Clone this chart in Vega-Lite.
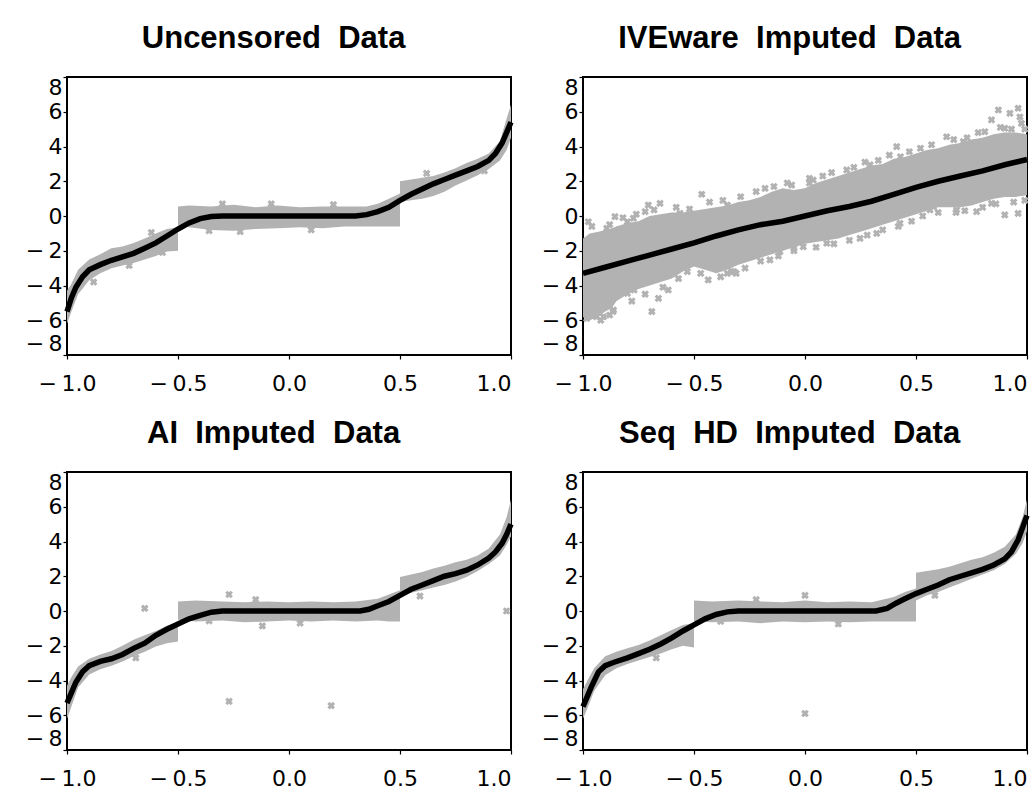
{
  "$schema": "https://vega.github.io/schema/vega-lite/v6.json",
  "background": "white",
  "padding": {"left": 24, "top": 22, "right": 5, "bottom": 5},
  "autosize": {"type": "pad"},
  "bounds": "flush",
  "columns": 2,
  "spacing": {"row": 117, "column": 72},
  "config": {
    "view": {"stroke": "black", "strokeWidth": 2},
    "axis": {"domain": false, "grid": false, "tickColor": "black", "tickSize": 4, "tickWidth": 1.2, "labelFont": "DejaVu Sans", "labelFontSize": 22, "labelColor": "black", "labelOverlap": false, "labelExpr": "replace(replace(datum.label, '-', '\u2212'), '\u2212', '\u2212\u2009')"},
    "axisX": {"labelFlush": false, "labelPadding": 14, "labelAlign": {"expr": "datum.value === 1 ? 'right' : 'center'"}},
    "axisY": {"labelFlush": true, "labelPadding": 1},
    "title": {"font": "Liberation Sans", "fontSize": 31, "fontWeight": "bold", "color": "black", "anchor": "middle", "frame": "bounds", "baseline": "alphabetic", "offset": 21}
  },
  "datasets": {
    "band": [
      {"p":"U","s":"a","x":-1.0,"lo":-6.2,"hi":-4.3},{"p":"U","s":"a","x":-0.98,"lo":-5.5,"hi":-3.9},{"p":"U","s":"a","x":-0.95,"lo":-4.5,"hi":-3.1},{"p":"U","s":"a","x":-0.9,"lo":-3.7,"hi":-2.5},{"p":"U","s":"a","x":-0.85,"lo":-3.3,"hi":-2.2},{"p":"U","s":"a","x":-0.8,"lo":-3.0,"hi":-1.85},{"p":"U","s":"a","x":-0.75,"lo":-2.85,"hi":-1.75},{"p":"U","s":"a","x":-0.7,"lo":-2.7,"hi":-1.55},{"p":"U","s":"a","x":-0.65,"lo":-2.5,"hi":-1.3},{"p":"U","s":"a","x":-0.6,"lo":-2.3,"hi":-1.0},{"p":"U","s":"a","x":-0.55,"lo":-2.05,"hi":-0.75},{"p":"U","s":"a","x":-0.5,"lo":-2.0,"hi":-0.65},
      {"p":"U","s":"b","x":-0.5,"lo":-0.55,"hi":0.55},{"p":"U","s":"b","x":-0.45,"lo":-0.65,"hi":0.6},{"p":"U","s":"b","x":-0.35,"lo":-0.8,"hi":0.55},{"p":"U","s":"b","x":-0.25,"lo":-0.85,"hi":0.65},{"p":"U","s":"b","x":-0.15,"lo":-0.75,"hi":0.5},{"p":"U","s":"b","x":-0.05,"lo":-0.7,"hi":0.6},{"p":"U","s":"b","x":0.05,"lo":-0.65,"hi":0.5},{"p":"U","s":"b","x":0.15,"lo":-0.7,"hi":0.55},{"p":"U","s":"b","x":0.25,"lo":-0.6,"hi":0.55},{"p":"U","s":"b","x":0.35,"lo":-0.6,"hi":0.55},{"p":"U","s":"b","x":0.4,"lo":-0.6,"hi":0.7},{"p":"U","s":"b","x":0.45,"lo":-0.6,"hi":1.0},{"p":"U","s":"b","x":0.5,"lo":-0.6,"hi":1.3},
      {"p":"U","s":"c","x":0.5,"lo":0.8,"hi":2.0},{"p":"U","s":"c","x":0.55,"lo":0.9,"hi":2.1},{"p":"U","s":"c","x":0.6,"lo":1.0,"hi":2.2},{"p":"U","s":"c","x":0.65,"lo":1.15,"hi":2.3},{"p":"U","s":"c","x":0.7,"lo":1.4,"hi":2.5},{"p":"U","s":"c","x":0.75,"lo":1.75,"hi":2.75},{"p":"U","s":"c","x":0.8,"lo":2.05,"hi":3.05},{"p":"U","s":"c","x":0.85,"lo":2.35,"hi":3.3},{"p":"U","s":"c","x":0.9,"lo":2.7,"hi":3.6},{"p":"U","s":"c","x":0.95,"lo":3.2,"hi":4.3},{"p":"U","s":"c","x":0.98,"lo":3.8,"hi":5.6},{"p":"U","s":"c","x":1.0,"lo":4.5,"hi":6.4},

      {"p":"I","s":"a","x":-1.0,"lo":-5.8,"hi":-1.3},{"p":"I","s":"a","x":-0.97,"lo":-6.0,"hi":-1.0},{"p":"I","s":"a","x":-0.93,"lo":-5.8,"hi":-0.9},{"p":"I","s":"a","x":-0.9,"lo":-5.5,"hi":-0.8},{"p":"I","s":"a","x":-0.87,"lo":-5.3,"hi":-0.7},{"p":"I","s":"a","x":-0.85,"lo":-4.9,"hi":-0.6},{"p":"I","s":"a","x":-0.8,"lo":-4.5,"hi":-0.4},{"p":"I","s":"a","x":-0.75,"lo":-4.2,"hi":-0.3},{"p":"I","s":"a","x":-0.7,"lo":-4.0,"hi":0.0},{"p":"I","s":"a","x":-0.65,"lo":-3.8,"hi":0.1},{"p":"I","s":"a","x":-0.6,"lo":-3.6,"hi":0.2},{"p":"I","s":"a","x":-0.55,"lo":-3.2,"hi":0.2},{"p":"I","s":"a","x":-0.5,"lo":-2.9,"hi":0.3},{"p":"I","s":"a","x":-0.45,"lo":-3.1,"hi":0.4},{"p":"I","s":"a","x":-0.4,"lo":-3.3,"hi":0.5},{"p":"I","s":"a","x":-0.35,"lo":-3.1,"hi":0.6},{"p":"I","s":"a","x":-0.3,"lo":-2.8,"hi":0.8},{"p":"I","s":"a","x":-0.25,"lo":-2.6,"hi":0.9},{"p":"I","s":"a","x":-0.2,"lo":-2.4,"hi":1.1},{"p":"I","s":"a","x":-0.15,"lo":-2.2,"hi":1.4},{"p":"I","s":"a","x":-0.1,"lo":-2.0,"hi":1.6},{"p":"I","s":"a","x":-0.05,"lo":-1.8,"hi":1.5},{"p":"I","s":"a","x":0.0,"lo":-1.6,"hi":1.6},{"p":"I","s":"a","x":0.05,"lo":-1.5,"hi":1.9},{"p":"I","s":"a","x":0.1,"lo":-1.4,"hi":2.1},{"p":"I","s":"a","x":0.15,"lo":-1.3,"hi":2.3},{"p":"I","s":"a","x":0.2,"lo":-1.1,"hi":2.5},{"p":"I","s":"a","x":0.25,"lo":-0.9,"hi":2.7},{"p":"I","s":"a","x":0.3,"lo":-0.7,"hi":2.9},{"p":"I","s":"a","x":0.35,"lo":-0.5,"hi":3.0},{"p":"I","s":"a","x":0.4,"lo":-0.3,"hi":3.3},{"p":"I","s":"a","x":0.45,"lo":-0.1,"hi":3.4},{"p":"I","s":"a","x":0.5,"lo":0.1,"hi":3.6},{"p":"I","s":"a","x":0.55,"lo":0.3,"hi":3.8},{"p":"I","s":"a","x":0.6,"lo":0.5,"hi":3.9},{"p":"I","s":"a","x":0.65,"lo":0.5,"hi":4.1},{"p":"I","s":"a","x":0.7,"lo":0.5,"hi":4.2},{"p":"I","s":"a","x":0.75,"lo":0.6,"hi":4.4},{"p":"I","s":"a","x":0.8,"lo":0.8,"hi":4.5},{"p":"I","s":"a","x":0.85,"lo":1.0,"hi":4.7},{"p":"I","s":"a","x":0.9,"lo":1.1,"hi":4.8},{"p":"I","s":"a","x":0.95,"lo":1.1,"hi":4.8},{"p":"I","s":"a","x":1.0,"lo":1.2,"hi":4.7},

      {"p":"A","s":"a","x":-1.0,"lo":-6.2,"hi":-4.3},{"p":"A","s":"a","x":-0.98,"lo":-5.5,"hi":-3.8},{"p":"A","s":"a","x":-0.95,"lo":-4.4,"hi":-3.2},{"p":"A","s":"a","x":-0.9,"lo":-3.65,"hi":-2.75},{"p":"A","s":"a","x":-0.85,"lo":-3.35,"hi":-2.5},{"p":"A","s":"a","x":-0.8,"lo":-3.15,"hi":-2.3},{"p":"A","s":"a","x":-0.75,"lo":-2.9,"hi":-2.0},{"p":"A","s":"a","x":-0.7,"lo":-2.6,"hi":-1.65},{"p":"A","s":"a","x":-0.65,"lo":-2.35,"hi":-1.4},{"p":"A","s":"a","x":-0.6,"lo":-2.05,"hi":-1.15},{"p":"A","s":"a","x":-0.55,"lo":-1.85,"hi":-0.85},{"p":"A","s":"a","x":-0.5,"lo":-1.75,"hi":-0.65},
      {"p":"A","s":"b","x":-0.5,"lo":-0.5,"hi":0.55},{"p":"A","s":"b","x":-0.42,"lo":-0.6,"hi":0.6},{"p":"A","s":"b","x":-0.3,"lo":-0.55,"hi":0.55},{"p":"A","s":"b","x":-0.2,"lo":-0.65,"hi":0.5},{"p":"A","s":"b","x":-0.1,"lo":-0.6,"hi":0.55},{"p":"A","s":"b","x":0.0,"lo":-0.55,"hi":0.5},{"p":"A","s":"b","x":0.1,"lo":-0.6,"hi":0.55},{"p":"A","s":"b","x":0.2,"lo":-0.55,"hi":0.5},{"p":"A","s":"b","x":0.3,"lo":-0.6,"hi":0.55},{"p":"A","s":"b","x":0.4,"lo":-0.55,"hi":0.7},{"p":"A","s":"b","x":0.45,"lo":-0.6,"hi":0.95},{"p":"A","s":"b","x":0.5,"lo":-0.6,"hi":1.2},
      {"p":"A","s":"c","x":0.5,"lo":0.9,"hi":1.95},{"p":"A","s":"c","x":0.55,"lo":1.05,"hi":2.1},{"p":"A","s":"c","x":0.6,"lo":1.2,"hi":2.25},{"p":"A","s":"c","x":0.65,"lo":1.35,"hi":2.45},{"p":"A","s":"c","x":0.7,"lo":1.5,"hi":2.6},{"p":"A","s":"c","x":0.75,"lo":1.7,"hi":2.8},{"p":"A","s":"c","x":0.8,"lo":1.95,"hi":2.95},{"p":"A","s":"c","x":0.85,"lo":2.3,"hi":3.2},{"p":"A","s":"c","x":0.9,"lo":2.7,"hi":3.6},{"p":"A","s":"c","x":0.95,"lo":3.2,"hi":4.4},{"p":"A","s":"c","x":0.98,"lo":3.8,"hi":5.4},{"p":"A","s":"c","x":1.0,"lo":4.3,"hi":6.4},

      {"p":"S","s":"a","x":-1.0,"lo":-6.2,"hi":-4.5},{"p":"S","s":"a","x":-0.98,"lo":-5.6,"hi":-4.0},{"p":"S","s":"a","x":-0.95,"lo":-4.6,"hi":-3.3},{"p":"S","s":"a","x":-0.9,"lo":-3.7,"hi":-2.6},{"p":"S","s":"a","x":-0.85,"lo":-3.3,"hi":-2.35},{"p":"S","s":"a","x":-0.8,"lo":-3.05,"hi":-2.15},{"p":"S","s":"a","x":-0.75,"lo":-2.85,"hi":-1.95},{"p":"S","s":"a","x":-0.7,"lo":-2.65,"hi":-1.7},{"p":"S","s":"a","x":-0.65,"lo":-2.45,"hi":-1.4},{"p":"S","s":"a","x":-0.6,"lo":-2.2,"hi":-1.1},{"p":"S","s":"a","x":-0.55,"lo":-2.0,"hi":-0.8},{"p":"S","s":"a","x":-0.5,"lo":-2.1,"hi":-0.7},
      {"p":"S","s":"b","x":-0.5,"lo":-0.6,"hi":0.6},{"p":"S","s":"b","x":-0.42,"lo":-0.65,"hi":0.55},{"p":"S","s":"b","x":-0.3,"lo":-0.6,"hi":0.6},{"p":"S","s":"b","x":-0.2,"lo":-0.7,"hi":0.55},{"p":"S","s":"b","x":-0.1,"lo":-0.6,"hi":0.5},{"p":"S","s":"b","x":0.0,"lo":-0.65,"hi":0.6},{"p":"S","s":"b","x":0.1,"lo":-0.6,"hi":0.5},{"p":"S","s":"b","x":0.2,"lo":-0.65,"hi":0.55},{"p":"S","s":"b","x":0.3,"lo":-0.6,"hi":0.5},{"p":"S","s":"b","x":0.4,"lo":-0.6,"hi":0.8},{"p":"S","s":"b","x":0.45,"lo":-0.6,"hi":1.1},{"p":"S","s":"b","x":0.5,"lo":-0.6,"hi":1.3},
      {"p":"S","s":"c","x":0.5,"lo":0.6,"hi":2.2},{"p":"S","s":"c","x":0.55,"lo":0.9,"hi":2.3},{"p":"S","s":"c","x":0.6,"lo":1.1,"hi":2.4},{"p":"S","s":"c","x":0.65,"lo":1.35,"hi":2.55},{"p":"S","s":"c","x":0.7,"lo":1.6,"hi":2.75},{"p":"S","s":"c","x":0.75,"lo":1.85,"hi":2.95},{"p":"S","s":"c","x":0.8,"lo":2.1,"hi":3.1},{"p":"S","s":"c","x":0.85,"lo":2.35,"hi":3.35},{"p":"S","s":"c","x":0.9,"lo":2.7,"hi":3.7},{"p":"S","s":"c","x":0.95,"lo":3.3,"hi":4.4},{"p":"S","s":"c","x":0.98,"lo":3.9,"hi":5.4},{"p":"S","s":"c","x":1.0,"lo":4.6,"hi":6.4}
    ],
    "pts": [
      {"p":"U","x":-0.62,"y":-0.95},{"p":"U","x":-0.72,"y":-2.85},{"p":"U","x":-0.36,"y":-0.85},{"p":"U","x":-0.22,"y":-0.9},{"p":"U","x":0.1,"y":-0.8},{"p":"U","x":0.2,"y":0.65},{"p":"U","x":-0.08,"y":0.7},{"p":"U","x":-0.3,"y":0.7},{"p":"U","x":0.62,"y":2.45},{"p":"U","x":0.88,"y":2.6},{"p":"U","x":-0.88,"y":-3.8},{"p":"U","x":-0.57,"y":-2.1},

      {"p":"I","x":-0.976,"y":-0.33},{"p":"I","x":-0.856,"y":-0.04},{"p":"I","x":-0.893,"y":-0.71},{"p":"I","x":-0.773,"y":-0.13},{"p":"I","x":-0.706,"y":0.63},{"p":"I","x":-0.653,"y":0.73},{"p":"I","x":-0.72,"y":0.25},{"p":"I","x":-0.465,"y":1.25},{"p":"I","x":-0.968,"y":-5.41},{"p":"I","x":-0.94,"y":-5.8},{"p":"I","x":-0.863,"y":-5.41},{"p":"I","x":-0.69,"y":-5.5},{"p":"I","x":-0.66,"y":-4.74},{"p":"I","x":-0.616,"y":-4.26},{"p":"I","x":-0.77,"y":-4.26},{"p":"I","x":-0.436,"y":-3.68},{"p":"I","x":-0.32,"y":-3.2},{"p":"I","x":-0.35,"y":-3.3},{"p":"I","x":-0.158,"y":-2.53},{"p":"I","x":-0.113,"y":-2.05},{"p":"I","x":-0.05,"y":-1.86},{"p":"I","x":-0.18,"y":1.59},{"p":"I","x":-0.06,"y":1.78},{"p":"I","x":0.02,"y":2.17},{"p":"I","x":-0.29,"y":1.11},{"p":"I","x":-0.35,"y":0.63},{"p":"I","x":-0.563,"y":0.15},{"p":"I","x":-0.8,"y":-0.33},{"p":"I","x":-0.84,"y":-0.8},{"p":"I","x":-0.93,"y":-1.19},
      {"p":"I","x":-0.008,"y":-1.77},{"p":"I","x":0.098,"y":-1.57},{"p":"I","x":0.248,"y":-1.29},{"p":"I","x":0.323,"y":-1.0},{"p":"I","x":0.428,"y":-0.42},{"p":"I","x":0.578,"y":0.54},{"p":"I","x":0.683,"y":0.35},{"p":"I","x":0.773,"y":0.25},{"p":"I","x":0.9,"y":0.06},{"p":"I","x":0.96,"y":0.15},{"p":"I","x":0.84,"y":0.73},{"p":"I","x":0.037,"y":2.07},{"p":"I","x":0.188,"y":2.65},{"p":"I","x":0.293,"y":2.94},{"p":"I","x":0.413,"y":3.99},{"p":"I","x":0.43,"y":3.41},{"p":"I","x":0.638,"y":4.56},{"p":"I","x":0.713,"y":4.28},{"p":"I","x":0.81,"y":4.85},{"p":"I","x":0.84,"y":5.53},{"p":"I","x":0.871,"y":6.1},{"p":"I","x":0.923,"y":5.91},{"p":"I","x":0.96,"y":6.2},{"p":"I","x":0.975,"y":5.33},{"p":"I","x":0.9,"y":5.05},{"p":"I","x":0.968,"y":5.7},{"p":"I","x":0.668,"y":0.92},{"p":"I","x":0.563,"y":0.35},
      {"p":"I","x":-0.983,"y":-5.9},{"p":"I","x":-0.908,"y":-5.8},{"p":"I","x":-0.865,"y":-5.5},{"p":"I","x":-0.833,"y":-4.26},{"p":"I","x":-0.8,"y":-4.45},{"p":"I","x":-0.31,"y":-3.3},
      {"p":"I","x":-0.96,"y":-0.6},{"p":"I","x":-0.88,"y":-0.5},{"p":"I","x":-0.82,"y":-0.1},{"p":"I","x":-0.76,"y":0.1},{"p":"I","x":-0.68,"y":0.35},{"p":"I","x":-0.58,"y":0.5},{"p":"I","x":-0.52,"y":0.4},{"p":"I","x":-0.43,"y":0.8},{"p":"I","x":-0.37,"y":0.9},{"p":"I","x":-0.22,"y":1.4},{"p":"I","x":-0.14,"y":1.7},{"p":"I","x":-0.08,"y":1.9},{"p":"I","x":0.02,"y":1.9},{"p":"I","x":0.08,"y":2.3},{"p":"I","x":0.12,"y":2.5},{"p":"I","x":0.22,"y":2.8},{"p":"I","x":0.27,"y":3.1},{"p":"I","x":0.33,"y":3.2},{"p":"I","x":0.38,"y":3.5},{"p":"I","x":0.47,"y":3.7},{"p":"I","x":0.52,"y":3.9},{"p":"I","x":0.57,"y":4.1},{"p":"I","x":0.67,"y":4.4},{"p":"I","x":0.73,"y":4.5},{"p":"I","x":0.78,"y":4.8},{"p":"I","x":0.88,"y":5.1},{"p":"I","x":0.93,"y":5.0},{"p":"I","x":0.99,"y":5.0},
      {"p":"I","x":-0.98,"y":-5.3},{"p":"I","x":-0.92,"y":-6.0},{"p":"I","x":-0.88,"y":-5.7},{"p":"I","x":-0.78,"y":-4.9},{"p":"I","x":-0.72,"y":-4.5},{"p":"I","x":-0.64,"y":-4.1},{"p":"I","x":-0.57,"y":-3.6},{"p":"I","x":-0.53,"y":-3.2},{"p":"I","x":-0.47,"y":-3.3},{"p":"I","x":-0.38,"y":-3.5},{"p":"I","x":-0.33,"y":-3.2},{"p":"I","x":-0.27,"y":-3.0},{"p":"I","x":-0.2,"y":-2.6},{"p":"I","x":-0.12,"y":-2.3},{"p":"I","x":-0.05,"y":-2.0},{"p":"I","x":0.05,"y":-1.8},{"p":"I","x":0.13,"y":-1.6},{"p":"I","x":0.2,"y":-1.4},{"p":"I","x":0.28,"y":-1.1},{"p":"I","x":0.35,"y":-0.8},{"p":"I","x":0.42,"y":-0.6},{"p":"I","x":0.48,"y":-0.3},{"p":"I","x":0.53,"y":0.0},{"p":"I","x":0.6,"y":0.2},{"p":"I","x":0.68,"y":0.2},{"p":"I","x":0.72,"y":0.3},{"p":"I","x":0.8,"y":0.5},{"p":"I","x":0.86,"y":0.7},{"p":"I","x":0.94,"y":0.8},{"p":"I","x":0.99,"y":0.9},

      {"p":"A","x":-0.65,"y":0.15},{"p":"A","x":-0.27,"y":-5.2},{"p":"A","x":0.19,"y":-5.45},{"p":"A","x":0.98,"y":0.0},{"p":"A","x":-0.27,"y":0.95},{"p":"A","x":-0.12,"y":-0.86},{"p":"A","x":0.59,"y":0.86},{"p":"A","x":-0.36,"y":-0.57},{"p":"A","x":-0.69,"y":-2.7},{"p":"A","x":-0.15,"y":0.65},{"p":"A","x":0.05,"y":-0.7},

      {"p":"S","x":0.0,"y":-5.9},{"p":"S","x":0.0,"y":0.9},{"p":"S","x":0.585,"y":0.9},{"p":"S","x":-0.67,"y":-2.7},{"p":"S","x":-0.22,"y":0.65},{"p":"S","x":0.15,"y":-0.75},{"p":"S","x":-0.38,"y":-0.6}
    ],
    "fit": [
      {"p":"U","x":-1.0,"y":-5.5},{"p":"U","x":-0.98,"y":-4.7},{"p":"U","x":-0.96,"y":-4.1},{"p":"U","x":-0.93,"y":-3.5},{"p":"U","x":-0.9,"y":-3.1},{"p":"U","x":-0.85,"y":-2.8},{"p":"U","x":-0.8,"y":-2.55},{"p":"U","x":-0.75,"y":-2.35},{"p":"U","x":-0.7,"y":-2.15},{"p":"U","x":-0.65,"y":-1.85},{"p":"U","x":-0.6,"y":-1.55},{"p":"U","x":-0.55,"y":-1.15},{"p":"U","x":-0.5,"y":-0.75},{"p":"U","x":-0.45,"y":-0.4},{"p":"U","x":-0.4,"y":-0.15},{"p":"U","x":-0.35,"y":-0.03},{"p":"U","x":-0.3,"y":0.0},{"p":"U","x":0.3,"y":0.0},{"p":"U","x":0.35,"y":0.08},{"p":"U","x":0.4,"y":0.25},{"p":"U","x":0.45,"y":0.5},{"p":"U","x":0.5,"y":0.9},{"p":"U","x":0.55,"y":1.25},{"p":"U","x":0.6,"y":1.55},{"p":"U","x":0.65,"y":1.85},{"p":"U","x":0.7,"y":2.1},{"p":"U","x":0.75,"y":2.35},{"p":"U","x":0.8,"y":2.6},{"p":"U","x":0.85,"y":2.85},{"p":"U","x":0.9,"y":3.2},{"p":"U","x":0.93,"y":3.6},{"p":"U","x":0.96,"y":4.2},{"p":"U","x":0.98,"y":4.8},{"p":"U","x":1.0,"y":5.4},

      {"p":"I","x":-1.0,"y":-3.3},{"p":"I","x":-0.9,"y":-2.95},{"p":"I","x":-0.8,"y":-2.6},{"p":"I","x":-0.7,"y":-2.25},{"p":"I","x":-0.6,"y":-1.9},{"p":"I","x":-0.5,"y":-1.55},{"p":"I","x":-0.4,"y":-1.15},{"p":"I","x":-0.3,"y":-0.8},{"p":"I","x":-0.2,"y":-0.5},{"p":"I","x":-0.1,"y":-0.3},{"p":"I","x":0.0,"y":0.0},{"p":"I","x":0.1,"y":0.3},{"p":"I","x":0.2,"y":0.55},{"p":"I","x":0.3,"y":0.85},{"p":"I","x":0.4,"y":1.25},{"p":"I","x":0.5,"y":1.65},{"p":"I","x":0.6,"y":2.0},{"p":"I","x":0.7,"y":2.3},{"p":"I","x":0.8,"y":2.6},{"p":"I","x":0.9,"y":2.95},{"p":"I","x":1.0,"y":3.25},

      {"p":"A","x":-1.0,"y":-5.3},{"p":"A","x":-0.98,"y":-4.7},{"p":"A","x":-0.96,"y":-4.1},{"p":"A","x":-0.93,"y":-3.5},{"p":"A","x":-0.9,"y":-3.15},{"p":"A","x":-0.85,"y":-2.9},{"p":"A","x":-0.8,"y":-2.75},{"p":"A","x":-0.75,"y":-2.5},{"p":"A","x":-0.7,"y":-2.15},{"p":"A","x":-0.65,"y":-1.85},{"p":"A","x":-0.6,"y":-1.4},{"p":"A","x":-0.55,"y":-1.05},{"p":"A","x":-0.5,"y":-0.75},{"p":"A","x":-0.45,"y":-0.45},{"p":"A","x":-0.4,"y":-0.25},{"p":"A","x":-0.35,"y":-0.07},{"p":"A","x":-0.3,"y":0.0},{"p":"A","x":0.32,"y":0.0},{"p":"A","x":0.36,"y":0.1},{"p":"A","x":0.4,"y":0.3},{"p":"A","x":0.45,"y":0.55},{"p":"A","x":0.5,"y":0.9},{"p":"A","x":0.55,"y":1.25},{"p":"A","x":0.6,"y":1.5},{"p":"A","x":0.65,"y":1.75},{"p":"A","x":0.7,"y":2.0},{"p":"A","x":0.75,"y":2.15},{"p":"A","x":0.8,"y":2.35},{"p":"A","x":0.85,"y":2.65},{"p":"A","x":0.9,"y":3.05},{"p":"A","x":0.93,"y":3.4},{"p":"A","x":0.96,"y":3.9},{"p":"A","x":0.98,"y":4.4},{"p":"A","x":1.0,"y":5.0},

      {"p":"S","x":-1.0,"y":-5.5},{"p":"S","x":-0.98,"y":-4.9},{"p":"S","x":-0.96,"y":-4.3},{"p":"S","x":-0.93,"y":-3.5},{"p":"S","x":-0.9,"y":-3.15},{"p":"S","x":-0.86,"y":-2.95},{"p":"S","x":-0.8,"y":-2.7},{"p":"S","x":-0.75,"y":-2.45},{"p":"S","x":-0.7,"y":-2.2},{"p":"S","x":-0.65,"y":-1.9},{"p":"S","x":-0.6,"y":-1.55},{"p":"S","x":-0.55,"y":-1.15},{"p":"S","x":-0.5,"y":-0.8},{"p":"S","x":-0.45,"y":-0.45},{"p":"S","x":-0.4,"y":-0.2},{"p":"S","x":-0.35,"y":-0.05},{"p":"S","x":-0.3,"y":0.0},{"p":"S","x":0.32,"y":0.0},{"p":"S","x":0.37,"y":0.15},{"p":"S","x":0.41,"y":0.45},{"p":"S","x":0.45,"y":0.7},{"p":"S","x":0.5,"y":1.0},{"p":"S","x":0.55,"y":1.25},{"p":"S","x":0.6,"y":1.5},{"p":"S","x":0.65,"y":1.8},{"p":"S","x":0.7,"y":2.0},{"p":"S","x":0.75,"y":2.2},{"p":"S","x":0.8,"y":2.4},{"p":"S","x":0.85,"y":2.65},{"p":"S","x":0.9,"y":3.0},{"p":"S","x":0.93,"y":3.4},{"p":"S","x":0.96,"y":4.1},{"p":"S","x":0.98,"y":4.8},{"p":"S","x":1.0,"y":5.5}
    ]
  },
  "concat": [
    {
      "width": 444, "height": 278,
      "title": {"text": "Uncensored\u00a0 Data"},
      "encoding": {
        "x": {"field": "x", "type": "quantitative", "scale": {"domain": [-1, 1], "nice": false, "zero": false}, "axis": {"title": null, "values": [-1, -0.5, 0, 0.5, 1], "format": ".1f"}},
        "y": {"type": "quantitative", "scale": {"domain": [-8, 8], "nice": false, "zero": false}, "axis": {"title": null, "values": [-8, -6, -4, -2, 0, 2, 4, 6, 8], "format": "d", "labelOverlap": false, "tickCount": 9}}
      },
      "layer": [
        {"data": {"name": "band"}, "transform": [{"filter": "datum.p === 'U'"}], "mark": {"type": "area", "color": "#b2b2b2"},
         "encoding": {"y": {"field": "lo"}, "y2": {"field": "hi"}, "detail": {"field": "s"}}},
        {"data": {"name": "pts"}, "transform": [{"filter": "datum.p === 'U'"}], "mark": {"type": "point", "shape": "cross", "angle": 45, "filled": true, "color": "#b2b2b2", "opacity": 1, "size": 60},
         "encoding": {"y": {"field": "y"}}},
        {"data": {"name": "fit"}, "transform": [{"filter": "datum.p === 'U'"}], "mark": {"type": "line", "color": "black", "strokeWidth": 5.5},
         "encoding": {"y": {"field": "y"}}}
      ]
    },
    {
      "width": 444, "height": 278,
      "title": {"text": "IVEware\u00a0 Imputed\u00a0 Data"},
      "encoding": {
        "x": {"field": "x", "type": "quantitative", "scale": {"domain": [-1, 1], "nice": false, "zero": false}, "axis": {"title": null, "values": [-1, -0.5, 0, 0.5, 1], "format": ".1f"}},
        "y": {"type": "quantitative", "scale": {"domain": [-8, 8], "nice": false, "zero": false}, "axis": {"title": null, "values": [-8, -6, -4, -2, 0, 2, 4, 6, 8], "format": "d", "labelOverlap": false, "tickCount": 9}}
      },
      "layer": [
        {"data": {"name": "band"}, "transform": [{"filter": "datum.p === 'I'"}], "mark": {"type": "area", "color": "#b2b2b2"},
         "encoding": {"y": {"field": "lo"}, "y2": {"field": "hi"}, "detail": {"field": "s"}}},
        {"data": {"name": "pts"}, "transform": [{"filter": "datum.p === 'I'"}], "mark": {"type": "point", "shape": "cross", "angle": 45, "filled": true, "color": "#b2b2b2", "opacity": 1, "size": 60},
         "encoding": {"y": {"field": "y"}}},
        {"data": {"name": "fit"}, "transform": [{"filter": "datum.p === 'I'"}], "mark": {"type": "line", "color": "black", "strokeWidth": 5.5},
         "encoding": {"y": {"field": "y"}}}
      ]
    },
    {
      "width": 444, "height": 278,
      "title": {"text": "AI\u00a0 Imputed\u00a0 Data"},
      "encoding": {
        "x": {"field": "x", "type": "quantitative", "scale": {"domain": [-1, 1], "nice": false, "zero": false}, "axis": {"title": null, "values": [-1, -0.5, 0, 0.5, 1], "format": ".1f"}},
        "y": {"type": "quantitative", "scale": {"domain": [-8, 8], "nice": false, "zero": false}, "axis": {"title": null, "values": [-8, -6, -4, -2, 0, 2, 4, 6, 8], "format": "d", "labelOverlap": false, "tickCount": 9}}
      },
      "layer": [
        {"data": {"name": "band"}, "transform": [{"filter": "datum.p === 'A'"}], "mark": {"type": "area", "color": "#b2b2b2"},
         "encoding": {"y": {"field": "lo"}, "y2": {"field": "hi"}, "detail": {"field": "s"}}},
        {"data": {"name": "pts"}, "transform": [{"filter": "datum.p === 'A'"}], "mark": {"type": "point", "shape": "cross", "angle": 45, "filled": true, "color": "#b2b2b2", "opacity": 1, "size": 60},
         "encoding": {"y": {"field": "y"}}},
        {"data": {"name": "fit"}, "transform": [{"filter": "datum.p === 'A'"}], "mark": {"type": "line", "color": "black", "strokeWidth": 5.5},
         "encoding": {"y": {"field": "y"}}}
      ]
    },
    {
      "width": 444, "height": 278,
      "title": {"text": "Seq\u00a0 HD\u00a0 Imputed\u00a0 Data"},
      "encoding": {
        "x": {"field": "x", "type": "quantitative", "scale": {"domain": [-1, 1], "nice": false, "zero": false}, "axis": {"title": null, "values": [-1, -0.5, 0, 0.5, 1], "format": ".1f"}},
        "y": {"type": "quantitative", "scale": {"domain": [-8, 8], "nice": false, "zero": false}, "axis": {"title": null, "values": [-8, -6, -4, -2, 0, 2, 4, 6, 8], "format": "d", "labelOverlap": false, "tickCount": 9}}
      },
      "layer": [
        {"data": {"name": "band"}, "transform": [{"filter": "datum.p === 'S'"}], "mark": {"type": "area", "color": "#b2b2b2"},
         "encoding": {"y": {"field": "lo"}, "y2": {"field": "hi"}, "detail": {"field": "s"}}},
        {"data": {"name": "pts"}, "transform": [{"filter": "datum.p === 'S'"}], "mark": {"type": "point", "shape": "cross", "angle": 45, "filled": true, "color": "#b2b2b2", "opacity": 1, "size": 60},
         "encoding": {"y": {"field": "y"}}},
        {"data": {"name": "fit"}, "transform": [{"filter": "datum.p === 'S'"}], "mark": {"type": "line", "color": "black", "strokeWidth": 5.5},
         "encoding": {"y": {"field": "y"}}}
      ]
    }
  ]
}
